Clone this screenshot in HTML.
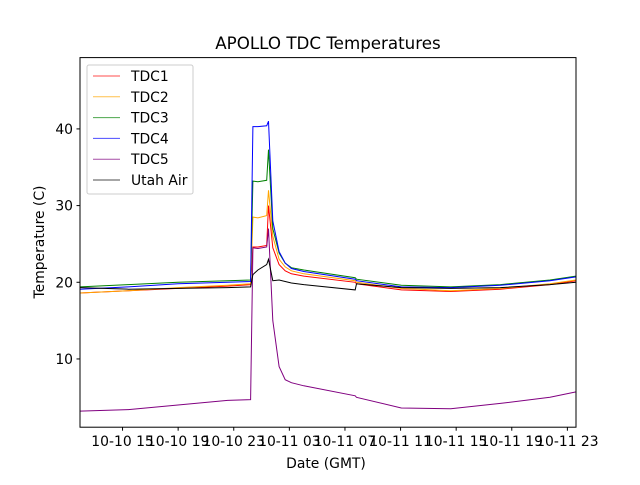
<!DOCTYPE html>
<html><head><meta charset="utf-8"><style>
body{margin:0;background:#fff;}
svg{font-family:"DejaVu Sans","Liberation Sans",sans-serif;}
</style></head><body>
<svg width="640" height="480">
<rect width="640" height="480" fill="#fff"/>
<g id="series"></g>
<rect x="80" y="57.6" width="496" height="369.6" fill="none" stroke="#000" stroke-width="1"/>
<g id="axes"></g>
<text x="328" y="49" text-anchor="middle" font-size="16.7">APOLLO TDC Temperatures</text>
<text x="326" y="468" text-anchor="middle" font-size="13.9">Date (GMT)</text>
<text transform="translate(44,242) rotate(-90)" text-anchor="middle" font-size="13.9">Temperature (C)</text>
<g id="legend"></g>
</svg>
<script>
const hours=[11.94,15.42,18.99,22.56,24.21,24.38,24.74,25.37,25.50,25.81,26.26,26.70,27.15,28.04,31.74,31.83,35.05,38.61,42.18,45.75,47.62];
const tdc1=[18.6,18.9,19.2,19.5,19.7,24.6,24.6,24.8,30.0,24.5,22.3,21.5,21.1,20.8,20.0,19.8,19.0,18.8,19.1,19.7,20.2];
const tdc2=[18.6,18.9,19.3,19.6,19.8,28.5,28.4,28.7,32.0,26.0,23.0,22.0,21.5,21.1,20.2,20.0,19.2,18.9,19.2,19.8,20.3];
const tdc3=[19.4,19.7,20.0,20.2,20.3,33.2,33.1,33.3,37.3,27.0,23.8,22.5,21.9,21.6,20.6,20.4,19.6,19.4,19.7,20.3,20.8];
const tdc4=[19.1,19.4,19.8,20.0,20.1,40.3,40.3,40.4,41.0,28.0,24.0,22.5,21.8,21.4,20.4,20.2,19.4,19.3,19.6,20.2,20.7];
const tdc5=[3.2,3.4,4.0,4.6,4.7,24.5,24.4,24.6,27.0,15.0,9.0,7.3,6.9,6.5,5.2,5.0,3.6,3.5,4.2,5.0,5.7];
const air=[19.3,19.1,19.2,19.3,19.4,21.0,21.6,22.3,23.0,20.2,20.3,20.1,19.9,19.7,19.0,19.8,19.3,19.2,19.3,19.7,20.0];
const seriesNames=["TDC1","TDC2","TDC3","TDC4","TDC5","Utah Air"];
const yTicks=[10,20,30,40];
const xTickHours=[15,19,23,27,31,35,39,43,47];
const xTickLabels=["10-10 15","10-10 19","10-10 23","10-11 03","10-11 07","10-11 11","10-11 15","10-11 19","10-11 23"];
const X0=80,X1=576,Y0=427.2,Y1=57.6,XMIN=11.94,XMAX=47.62,YMIN=1.1,YMAX=49.3;
const xs=h=>X0+(h-XMIN)/(XMAX-XMIN)*(X1-X0);
const ys=v=>Y0-(v-YMIN)/(YMAX-YMIN)*(Y0-Y1);
const NS="http://www.w3.org/2000/svg";
const colors=["#ff0000","#ffa500","#008000","#0000ff","#800080","#000000"];
const data=[tdc1,tdc2,tdc3,tdc4,tdc5,air];
const sg=document.getElementById('series');
data.forEach((arr,i)=>{
  const p=document.createElementNS(NS,'polyline');
  p.setAttribute('points',arr.map((v,j)=>xs(hours[j]).toFixed(1)+','+ys(v).toFixed(1)).join(' '));
  p.setAttribute('fill','none');p.setAttribute('stroke',colors[i]);p.setAttribute('stroke-width','1');
  
  
  sg.appendChild(p);
});
const ax=document.getElementById('axes');
yTicks.forEach(t=>{
  const y=ys(t);
  const l=document.createElementNS(NS,'line');
  l.setAttribute('x1',76.5);l.setAttribute('x2',80);l.setAttribute('y1',y);l.setAttribute('y2',y);l.setAttribute('stroke','#000');
  
  
  ax.appendChild(l);
  const tx=document.createElementNS(NS,'text');
  tx.setAttribute('x',73);tx.setAttribute('y',y+5);tx.setAttribute('text-anchor','end');tx.setAttribute('font-size','13.9');
  tx.textContent=t;
  
  
  ax.appendChild(tx);
});
xTickHours.forEach((h,i)=>{
  const x=xs(h);
  const l=document.createElementNS(NS,'line');
  l.setAttribute('x1',x);l.setAttribute('x2',x);l.setAttribute('y1',427.2);l.setAttribute('y2',430.7);l.setAttribute('stroke','#000');
  
  
  ax.appendChild(l);
  const tx=document.createElementNS(NS,'text');
  tx.setAttribute('x',x);tx.setAttribute('y',446);tx.setAttribute('text-anchor','middle');tx.setAttribute('font-size','13.9');
  tx.textContent=xTickLabels[i];
  
  
  ax.appendChild(tx);
});
const lg=document.getElementById('legend');
const box=document.createElementNS(NS,'rect');
box.setAttribute('x',87);box.setAttribute('y',65);box.setAttribute('width',106);box.setAttribute('height',129);box.setAttribute('rx',2);
box.setAttribute('fill','#fff');box.setAttribute('fill-opacity','0.8');box.setAttribute('stroke','#ccc');


lg.appendChild(box);
seriesNames.forEach((n,i)=>{
  const y=76+i*20.8;
  const l=document.createElementNS(NS,'line');
  l.setAttribute('x1',93);l.setAttribute('x2',120);l.setAttribute('y1',y);l.setAttribute('y2',y);
  l.setAttribute('stroke',colors[i]);l.setAttribute('stroke-opacity','0.7');
  
  
  lg.appendChild(l);
  const tx=document.createElementNS(NS,'text');
  tx.setAttribute('x',131);tx.setAttribute('y',y+5);tx.setAttribute('font-size','13.9');
  tx.textContent=n;
  
  
  lg.appendChild(tx);
});
</script>
</body></html>
